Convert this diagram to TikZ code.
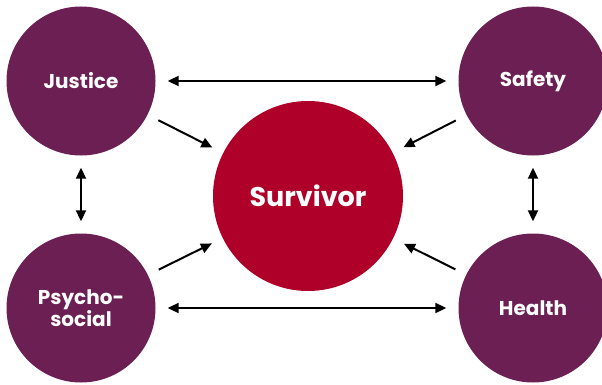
\documentclass[tikz,border=0pt]{standalone}
\usepackage{fontspec}
\setmainfont{Poppins}
\usepackage{xcolor}
\usetikzlibrary{arrows.meta}
\definecolor{plum}{RGB}{107,31,82}
\definecolor{crimson}{RGB}{174,0,40}
\tikzset{
    tnode/.style = {align=center, inner sep=0pt, text centered, font=\bfseries},
    area/.style = {tnode, circle, white, fill=plum, minimum size=149pt, font=\bfseries\fontsize{20}{22}\selectfont},
    core/.style = {tnode, circle, white, fill=crimson, minimum size=190pt, font=\bfseries\fontsize{27}{30}\selectfont},
    link/.style = {line width=2pt, shorten <=12pt, shorten >=12pt}
}

\begin{document}
\begin{tikzpicture}
            [x=1pt, y=1pt,
            >={Triangle[length=11pt, width=10pt]}]

            \useasboundingbox (0,0) rectangle (602,384);

            % four areas round the survivor
            \node [area] (justice) at (81,303) {Justice};
            \node [area] (safety) at (533,303) {Safety};
            \node [area] (psycho) at (81,76) {Psycho-\\social};
            \node [area] (health) at (533,76) {Health};
            \node [core] (survivor) at (308,188) {Survivor};

            % links between the areas
            \draw [link, <->] (justice) -- (safety);
            \draw [link, <->] (psycho) -- (health);
            \draw [link, <->] (justice) -- (psycho);
            \draw [link, <->] (safety) -- (health);

            % links into the centre
            \draw [link, ->] (justice) -- (survivor);
            \draw [link, ->] (safety) -- (survivor);
            \draw [link, ->] (psycho) -- (survivor);
            \draw [link, ->] (health) -- (survivor);
\end{tikzpicture}
\end{document}
